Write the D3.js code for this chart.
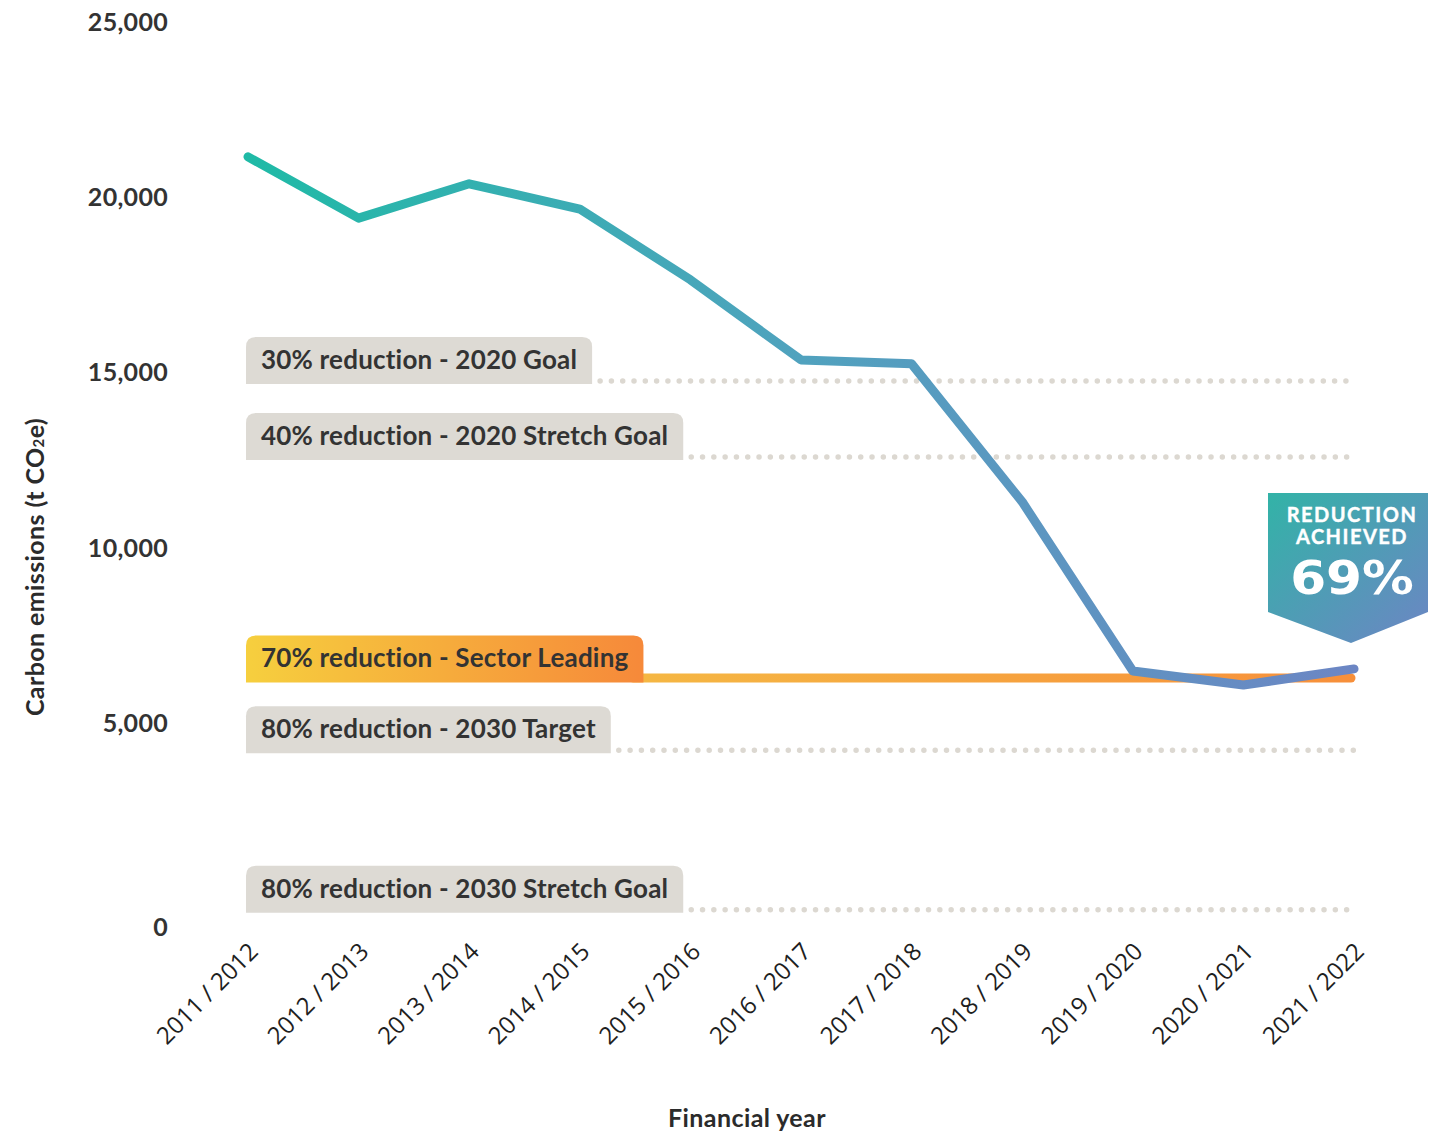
<!DOCTYPE html>
<html>
<head>
<meta charset="utf-8">
<script src="https://cdn.jsdelivr.net/npm/d3@7"></script>
<style>
  body { margin: 0; background: #fff; }
  svg { display: block; }
  .ytick { font-family: Lato, sans-serif; font-weight: 700; font-size: 25px; fill: #333; letter-spacing: 0.3px; }
  .xtick { font-family: 'Open Sans', sans-serif; font-size: 24px; fill: #1e1e1e; }
  .axis-title { font-family: Lato, sans-serif; font-weight: 700; font-size: 25px; fill: #2b2b2b; letter-spacing: 0.4px; }
  .goal-text { font-family: Lato, sans-serif; font-weight: 700; font-size: 26px; fill: #333; letter-spacing: 0.2px; }
  .badge-text { font-family: Lato, sans-serif; font-weight: 700; font-style: normal; fill: #fff; }
  .badge-value { font-family: 'DejaVu Sans', sans-serif; font-weight: 700; fill: #fff; }
</style>
</head>
<body>
<script>
const years = ['2011 / 2012', '2012 / 2013', '2013 / 2014', '2014 / 2015', '2015 / 2016',
  '2016 / 2017', '2017 / 2018', '2018 / 2019', '2019 / 2020', '2020 / 2021', '2021 / 2022'];
const emissions = [21150, 19400, 20380, 19660, 17640, 15350, 15240, 11300, 6470, 6070, 6530];

const yTicks = [0, 5000, 10000, 15000, 20000, 25000];

const goalLabels = ['30% reduction - 2020 Goal', '40% reduction - 2020 Stretch Goal',
  '70% reduction - Sector Leading', '80% reduction - 2030 Target', '80% reduction - 2030 Stretch Goal'];
const goalValues = [14750, 12580, 6270, 4210, -350];
const goalHighlight = [false, false, true, false, false];

const achievedLabel = ['REDUCTION', 'ACHIEVED'];
const achievedValue = '69%';

const render = () => {
  const width = 1449;
  const height = 1134;

  const svg = d3.select('body')
    .append('svg')
    .attr('width', width)
    .attr('height', height);

  const defs = svg.append('defs');

  const addGradient = (id, stops, attrs) => {
    const g = defs.append('linearGradient').attr('id', id);
    Object.entries(attrs).forEach(([k, v]) => g.attr(k, v));
    stops.forEach(([o, c]) => g.append('stop').attr('offset', o).attr('stop-color', c));
  };

  const xScale = d3.scalePoint().domain(years).range([248, 1354]);
  const yScale = d3.scaleLinear().domain([0, 25000]).range([897.6, 22]);

  addGradient('lineGrad', [[0, '#1fbaa6'], [0.5, '#50a2be'], [1, '#6c86c4']],
    { gradientUnits: 'userSpaceOnUse', x1: 248, x2: 1354, y1: 0, y2: 0 });
  addGradient('orangeBox', [[0, '#f6cf3e'], [1, '#f6893a']],
    { x1: 0, x2: 1, y1: 0, y2: 0 });
  addGradient('orangeLine', [[0, '#f5b743'], [1, '#f78f3a']],
    { gradientUnits: 'userSpaceOnUse', x1: 640, x2: 1355, y1: 0, y2: 0 });
  addGradient('badgeGrad', [[0, '#32b3a7'], [1, '#6d85c4']],
    { x1: 0, x2: 1, y1: 0, y2: 1 });

  // y axis labels
  const yAxis = d3.axisLeft(yScale)
    .tickValues(yTicks)
    .tickFormat(d3.format(','))
    .tickSize(0)
    .tickPadding(0);

  const yAxisG = svg.append('g')
    .attr('transform', 'translate(168, 0)')
    .call(yAxis);
  yAxisG.select('.domain').remove();
  yAxisG.selectAll('text')
    .attr('class', 'ytick')
    .attr('dy', d => d === 0 ? '1.5em' : '0.35em');

  svg.append('text')
    .attr('class', 'axis-title')
    .attr('transform', 'translate(44, 567) rotate(-90)')
    .attr('text-anchor', 'middle')
    .call(t => {
      t.append('tspan').text('Carbon emissions (t CO');
      t.append('tspan').attr('font-size', 15).text('2');
      t.append('tspan').text('e)');
    });

  // x axis labels
  const xAxis = d3.axisBottom(xScale).tickSize(0).tickPadding(0);
  const xAxisG = svg.append('g')
    .attr('transform', 'translate(0, 953)')
    .call(xAxis);
  xAxisG.select('.domain').remove();
  xAxisG.selectAll('text')
    .attr('class', 'xtick')
    .attr('text-anchor', 'end')
    .attr('dy', 0)
    .attr('y', 0)
    .attr('transform', 'translate(11, 0) rotate(-45)');

  svg.append('text')
    .attr('class', 'axis-title')
    .attr('x', 747)
    .attr('y', 1127)
    .attr('text-anchor', 'middle')
    .text('Financial year');

  // goal labels and lines
  const goals = svg.append('g');
  goalLabels.forEach((label, i) => {
    const hl = goalHighlight[i];
    const lineY = yScale(goalValues[i]);
    const boxBottom = lineY + (hl ? 4.5 : 3);
    const g = goals.append('g');

    const txt = g.append('text')
      .attr('class', 'goal-text')
      .attr('x', 246 + 15)
      .attr('y', boxBottom - 15)
      .text(label);
    const boxW = txt.node().getComputedTextLength() + 30;
    const boxH = 47;
    const r = 10;
    const x0 = 246, x1 = 246 + boxW, y0 = boxBottom - boxH, y1 = boxBottom;

    if (hl) {
      // solid target line sits behind its label box
      g.insert('line', 'text')
        .attr('x1', x1 - 10)
        .attr('x2', 1351)
        .attr('y1', lineY)
        .attr('y2', lineY)
        .attr('stroke', 'url(#orangeLine)')
        .attr('stroke-width', 9)
        .attr('stroke-linecap', 'round');
    } else {
      g.append('line')
        .attr('x1', x1 + 8)
        .attr('x2', 1357)
        .attr('y1', lineY)
        .attr('y2', lineY)
        .attr('stroke', '#dcd8d1')
        .attr('stroke-width', 5.5)
        .attr('stroke-linecap', 'round')
        .attr('stroke-dasharray', '0 11.3');
    }

    g.insert('path', 'text')
      .attr('d', `M${x0},${y1} V${y0 + r} Q${x0},${y0} ${x0 + r},${y0} H${x1 - r} Q${x1},${y0} ${x1},${y0 + r} V${y1} Z`)
      .attr('fill', hl ? 'url(#orangeBox)' : '#dddad4');
  });

  // emissions line
  const line = d3.line()
    .x((d, i) => xScale(years[i]))
    .y(d => yScale(d));

  svg.append('path')
    .datum(emissions)
    .attr('d', line)
    .attr('fill', 'none')
    .attr('stroke', 'url(#lineGrad)')
    .attr('stroke-width', 9)
    .attr('stroke-linejoin', 'round')
    .attr('stroke-linecap', 'round');

  // reduction badge
  const badge = svg.append('g').attr('transform', 'translate(1268, 493)');
  badge.append('path')
    .attr('d', 'M0,0 H160 V119 L83,150 L0,119 Z')
    .attr('fill', 'url(#badgeGrad)');

  badge.selectAll('.badge-line')
    .data(achievedLabel)
    .enter().append('text')
    .attr('class', 'badge-text badge-line')
    .attr('x', 84)
    .attr('y', (d, i) => 29 + i * 22)
    .attr('text-anchor', 'middle')
    .style('font-size', '20px')
    .style('letter-spacing', '1.5px')
    .style('stroke', '#fff')
    .style('stroke-width', '0.4px')
    .text(d => d);

  badge.append('text')
    .attr('class', 'badge-value')
    .attr('transform', 'translate(84, 101) scale(1.1, 1)')
    .attr('text-anchor', 'middle')
    .style('font-size', '47px')
    .text(achievedValue);
};

document.addEventListener('DOMContentLoaded', render);
</script>
</body>
</html>
